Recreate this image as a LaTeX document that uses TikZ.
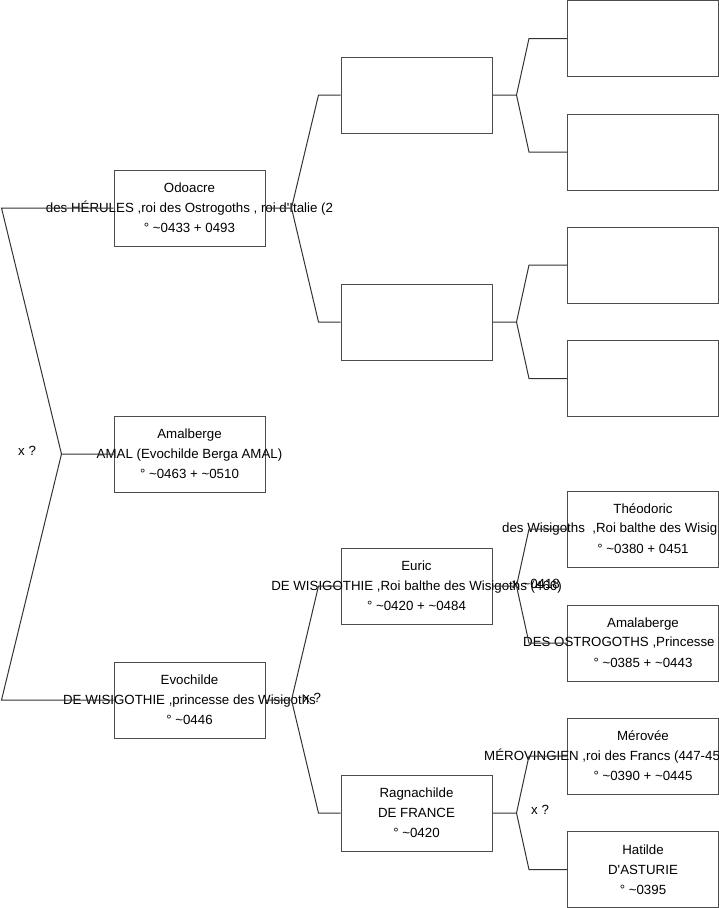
\documentclass[tikz,border=0pt]{standalone}
\usepackage{fontspec}
\setmainfont{Liberation Sans}
\usetikzlibrary{positioning}
\newcommand{\tildech}{\textasciitilde}

\tikzset{
  person/.style={draw=black!70, line width=1pt, minimum width=151pt, minimum height=76pt, inner sep=0pt},
  txt/.style={font=\fontsize{13.3}{20}\selectfont, align=center, inner sep=0pt},
  link/.style={draw=black!80, line width=1pt},
}

\begin{document}
\begin{tikzpicture}[x=1pt,y=-1pt]
        \clip (0,0) rectangle (719,908);
        % colonne 1
        \node[person] (odoacre) at (189.5,208) {};
        \node[person] (amalberge) at (189.5,454) {};
        \node[person] (evochilde) at (189.5,700) {};
        % colonne 2
        \node[person] (p1) at (416.5,95) {};
        \node[person] (p2) at (416.5,322) {};
        \node[person] (euric) at (416.5,586) {};
        \node[person] (ragnachilde) at (416.5,813) {};
        % colonne 3
        \node[person] (p11) at (643,38.5) {};
        \node[person] (p12) at (643,152) {};
        \node[person] (p21) at (643,265) {};
        \node[person] (p22) at (643,378.5) {};
        \node[person] (theodoric) at (643,529) {};
        \node[person] (amalaberge) at (643,643) {};
        \node[person] (merovee) at (643,756) {};
        \node[person] (hatilde) at (643,869.5) {};

        % textes
        \node[txt] (odoacre-t) at (odoacre) {Odoacre\\des HÉRULES ,roi des Ostrogoths , roi d\textquotesingle Italie (2\\° \tildech0433 + 0493};
        \node[txt] (amalberge-t) at (amalberge) {Amalberge\\AMAL (Evochilde Berga AMAL)\\° \tildech0463 + \tildech0510};
        \node[txt] (evochilde-t) at (evochilde) {Evochilde\\DE WISIGOTHIE ,princesse des Wisigoths\\° \tildech0446};
        \node[txt] (euric-t) at (euric) {Euric\\DE WISIGOTHIE ,Roi balthe des Wisigoths (466)\\° \tildech0420 + \tildech0484};
        \node[txt] (ragnachilde-t) at (ragnachilde) {Ragnachilde\\DE FRANCE\\° \tildech0420};
        \node[txt] (theodoric-t) at (theodoric) {Théodoric\\[20pt]° \tildech0380 + 0451};
        \node[txt, anchor=west] (theodoric-m) at (502,529) {des Wisigoths\ \ ,Roi balthe des Wisig};
        \node[txt] (amalaberge-t) at (amalaberge) {Amalaberge\\[20pt]° \tildech0385 + \tildech0443};
        \node[txt, anchor=west] (amalaberge-m) at (523,643) {DES OSTROGOTHS ,Princesse};
        \node[txt] (merovee-t) at (merovee) {Mérovée\\[20pt]° \tildech0390 + \tildech0445};
        \node[txt, anchor=west] (merovee-m) at (484,756) {MÉROVINGIEN ,roi des Francs (447-45};
        \node[txt] (hatilde-t) at (hatilde) {Hatilde\\D\textquotesingle ASTURIE\\° \tildech0395};

        % mariages
        \node[txt, anchor=west] (x0) at (18,451) {x ?};
        \node[txt, anchor=west] (x1) at (303,698) {x ?};
        \node[txt, anchor=west] (x2) at (512,584) {x \tildech0418};
        \node[txt, anchor=west] (x3) at (531,810) {x ?};

        % liens
        \coordinate (f0) at ([xshift=-52pt]amalberge.west);
        \draw[link] (amalberge.west) -- (f0) -- ([xshift=-112pt]odoacre.west) -- (odoacre.west);
        \draw[link] (f0) -- ([xshift=-112pt]evochilde.west) -- (evochilde.west);

        \coordinate (f1) at ([xshift=26pt]odoacre.east);
        \draw[link] (odoacre.east) -- (f1) -- ([xshift=-22pt]p1.west) -- (p1.west);
        \draw[link] (f1) -- ([xshift=-22pt]p2.west) -- (p2.west);
        \coordinate (f2) at ([xshift=26pt]evochilde.east);
        \draw[link] (evochilde.east) -- (f2) -- ([xshift=-22pt]euric.west) -- (euric.west);
        \draw[link] (f2) -- ([xshift=-22pt]ragnachilde.west) -- (ragnachilde.west);

        \coordinate (f11) at ([xshift=24pt]p1.east);
        \draw[link] (p1.east) -- (f11) -- ([xshift=-38pt]p11.west) -- (p11.west);
        \draw[link] (f11) -- ([xshift=-38pt]p12.west) -- (p12.west);
        \coordinate (f12) at ([xshift=24pt]p2.east);
        \draw[link] (p2.east) -- (f12) -- ([xshift=-38pt]p21.west) -- (p21.west);
        \draw[link] (f12) -- ([xshift=-38pt]p22.west) -- (p22.west);
        \coordinate (f21) at ([xshift=24pt]euric.east);
        \draw[link] (euric.east) -- (f21) -- ([xshift=-38pt]theodoric.west) -- (theodoric.west);
        \draw[link] (f21) -- ([xshift=-38pt]amalaberge.west) -- (amalaberge.west);
        \coordinate (f22) at ([xshift=24pt]ragnachilde.east);
        \draw[link] (ragnachilde.east) -- (f22) -- ([xshift=-38pt]merovee.west) -- (merovee.west);
        \draw[link] (f22) -- ([xshift=-38pt]hatilde.west) -- (hatilde.west);
\end{tikzpicture}
\end{document}
